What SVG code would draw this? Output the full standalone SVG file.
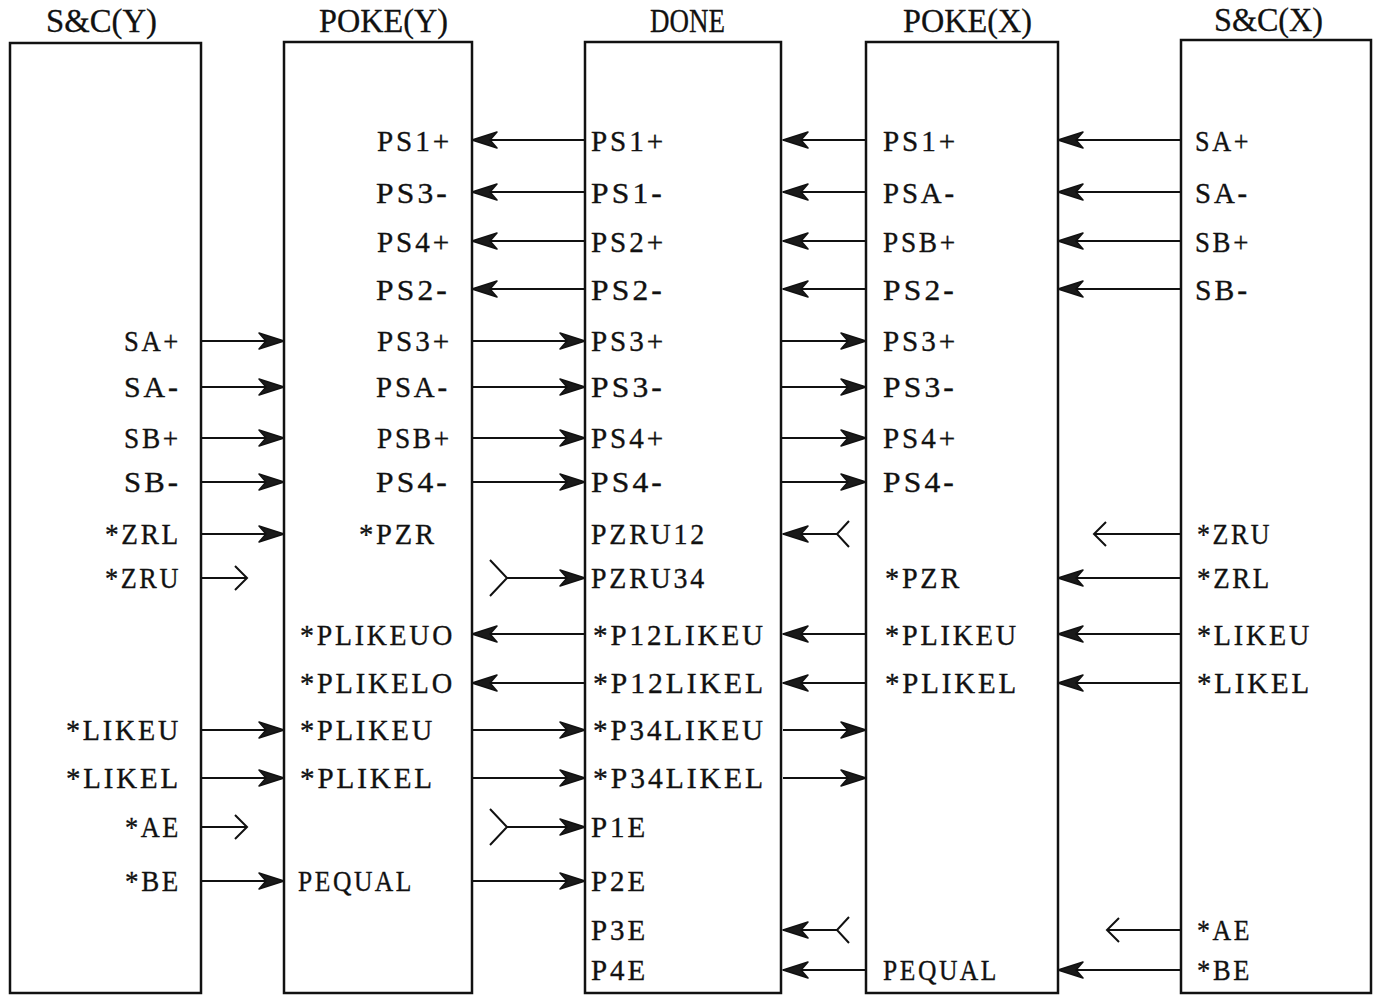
<svg xmlns="http://www.w3.org/2000/svg" width="1377" height="995" viewBox="0 0 1377 995">
<style>
.box{fill:none;stroke:#111;stroke-width:2.5}
.t{font-family:"Liberation Serif","DejaVu Serif",serif;font-size:30px;letter-spacing:3px;fill:#111;stroke:#111;stroke-width:0.35}
.e{text-anchor:end}
.ttl{font-family:"Liberation Serif","DejaVu Serif",serif;font-size:34px;fill:#111;stroke:#111;stroke-width:0.3}
.c line{stroke:#111;stroke-width:2.2}
.c path{fill:none;stroke:#111;stroke-width:2}
</style>
<defs>
<marker id="ah" viewBox="-27 -10 29 20" markerWidth="29" markerHeight="20" refX="0" refY="0" orient="auto" markerUnits="userSpaceOnUse">
<path d="M0,0 L-25,-8 L-18,0 L-25,8 Z" fill="#1a1a1a" stroke="#111" stroke-width="1.5" stroke-linejoin="round"/>
</marker>
</defs>
<rect width="1377" height="995" fill="#fff"/>

<g id="sc-y">
<text class="ttl" x="46" y="32" textLength="111" lengthAdjust="spacingAndGlyphs">S&amp;C(Y)</text>
<rect class="box" x="10" y="43" width="191" height="950"/>
<text class="t e" x="181" y="351" textLength="57" lengthAdjust="spacingAndGlyphs">SA+</text>
<text class="t e" x="181" y="397" textLength="57" lengthAdjust="spacingAndGlyphs">SA-</text>
<text class="t e" x="181" y="448" textLength="57" lengthAdjust="spacingAndGlyphs">SB+</text>
<text class="t e" x="181" y="492" textLength="57" lengthAdjust="spacingAndGlyphs">SB-</text>
<text class="t e" x="181" y="544" textLength="76" lengthAdjust="spacingAndGlyphs">*ZRL</text>
<text class="t e" x="181" y="588" textLength="76" lengthAdjust="spacingAndGlyphs">*ZRU</text>
<text class="t e" x="181" y="740" textLength="115" lengthAdjust="spacingAndGlyphs">*LIKEU</text>
<text class="t e" x="181" y="788" textLength="115" lengthAdjust="spacingAndGlyphs">*LIKEL</text>
<text class="t e" x="181" y="837" textLength="56" lengthAdjust="spacingAndGlyphs">*AE</text>
<text class="t e" x="181" y="891" textLength="56" lengthAdjust="spacingAndGlyphs">*BE</text>
</g>

<g id="poke-y">
<text class="ttl" x="319" y="32" textLength="129" lengthAdjust="spacingAndGlyphs">POKE(Y)</text>
<rect class="box" x="284" y="42" width="188" height="951"/>
<text class="t" x="377" y="151" textLength="75" lengthAdjust="spacingAndGlyphs">PS1+</text>
<text class="t" x="376" y="203" textLength="74" lengthAdjust="spacingAndGlyphs">PS3-</text>
<text class="t" x="377" y="252" textLength="75" lengthAdjust="spacingAndGlyphs">PS4+</text>
<text class="t" x="376" y="300" textLength="74" lengthAdjust="spacingAndGlyphs">PS2-</text>
<text class="t" x="377" y="351" textLength="75" lengthAdjust="spacingAndGlyphs">PS3+</text>
<text class="t" x="376" y="397" textLength="74" lengthAdjust="spacingAndGlyphs">PSA-</text>
<text class="t" x="377" y="448" textLength="75" lengthAdjust="spacingAndGlyphs">PSB+</text>
<text class="t" x="376" y="492" textLength="74" lengthAdjust="spacingAndGlyphs">PS4-</text>
<text class="t" x="359" y="544" textLength="78" lengthAdjust="spacingAndGlyphs">*PZR</text>
<text class="t" x="300" y="645" textLength="155" lengthAdjust="spacingAndGlyphs">*PLIKEUO</text>
<text class="t" x="300" y="693" textLength="155" lengthAdjust="spacingAndGlyphs">*PLIKELO</text>
<text class="t" x="300" y="740" textLength="135" lengthAdjust="spacingAndGlyphs">*PLIKEU</text>
<text class="t" x="300" y="788" textLength="135" lengthAdjust="spacingAndGlyphs">*PLIKEL</text>
<text class="t" x="298" y="891" textLength="116" lengthAdjust="spacingAndGlyphs">PEQUAL</text>
</g>

<g id="done">
<text class="ttl" x="650" y="32" textLength="75" lengthAdjust="spacingAndGlyphs">DONE</text>
<rect class="box" x="585" y="42" width="196" height="951"/>
<text class="t" x="591" y="151" textLength="75" lengthAdjust="spacingAndGlyphs">PS1+</text>
<text class="t" x="591" y="203" textLength="74" lengthAdjust="spacingAndGlyphs">PS1-</text>
<text class="t" x="591" y="252" textLength="75" lengthAdjust="spacingAndGlyphs">PS2+</text>
<text class="t" x="591" y="300" textLength="74" lengthAdjust="spacingAndGlyphs">PS2-</text>
<text class="t" x="591" y="351" textLength="75" lengthAdjust="spacingAndGlyphs">PS3+</text>
<text class="t" x="591" y="397" textLength="74" lengthAdjust="spacingAndGlyphs">PS3-</text>
<text class="t" x="591" y="448" textLength="75" lengthAdjust="spacingAndGlyphs">PS4+</text>
<text class="t" x="591" y="492" textLength="74" lengthAdjust="spacingAndGlyphs">PS4-</text>
<text class="t" x="591" y="544" textLength="116" lengthAdjust="spacingAndGlyphs">PZRU12</text>
<text class="t" x="591" y="588" textLength="116" lengthAdjust="spacingAndGlyphs">PZRU34</text>
<text class="t" x="593" y="645" textLength="173" lengthAdjust="spacingAndGlyphs">*P12LIKEU</text>
<text class="t" x="593" y="693" textLength="173" lengthAdjust="spacingAndGlyphs">*P12LIKEL</text>
<text class="t" x="593" y="740" textLength="173" lengthAdjust="spacingAndGlyphs">*P34LIKEU</text>
<text class="t" x="593" y="788" textLength="173" lengthAdjust="spacingAndGlyphs">*P34LIKEL</text>
<text class="t" x="591" y="837" textLength="57" lengthAdjust="spacingAndGlyphs">P1E</text>
<text class="t" x="591" y="891" textLength="57" lengthAdjust="spacingAndGlyphs">P2E</text>
<text class="t" x="591" y="940" textLength="57" lengthAdjust="spacingAndGlyphs">P3E</text>
<text class="t" x="591" y="980" textLength="57" lengthAdjust="spacingAndGlyphs">P4E</text>
</g>

<g id="poke-x">
<text class="ttl" x="903" y="32" textLength="129" lengthAdjust="spacingAndGlyphs">POKE(X)</text>
<rect class="box" x="866" y="42" width="192" height="951"/>
<text class="t" x="883" y="151" textLength="75" lengthAdjust="spacingAndGlyphs">PS1+</text>
<text class="t" x="883" y="203" textLength="74" lengthAdjust="spacingAndGlyphs">PSA-</text>
<text class="t" x="883" y="252" textLength="75" lengthAdjust="spacingAndGlyphs">PSB+</text>
<text class="t" x="883" y="300" textLength="74" lengthAdjust="spacingAndGlyphs">PS2-</text>
<text class="t" x="883" y="351" textLength="75" lengthAdjust="spacingAndGlyphs">PS3+</text>
<text class="t" x="883" y="397" textLength="74" lengthAdjust="spacingAndGlyphs">PS3-</text>
<text class="t" x="883" y="448" textLength="75" lengthAdjust="spacingAndGlyphs">PS4+</text>
<text class="t" x="883" y="492" textLength="74" lengthAdjust="spacingAndGlyphs">PS4-</text>
<text class="t" x="885" y="588" textLength="77" lengthAdjust="spacingAndGlyphs">*PZR</text>
<text class="t" x="885" y="645" textLength="134" lengthAdjust="spacingAndGlyphs">*PLIKEU</text>
<text class="t" x="885" y="693" textLength="134" lengthAdjust="spacingAndGlyphs">*PLIKEL</text>
<text class="t" x="883" y="980" textLength="116" lengthAdjust="spacingAndGlyphs">PEQUAL</text>
</g>

<g id="sc-x">
<text class="ttl" x="1214" y="31" textLength="109" lengthAdjust="spacingAndGlyphs">S&amp;C(X)</text>
<rect class="box" x="1181" y="40" width="190" height="953"/>
<text class="t" x="1195" y="151" textLength="56" lengthAdjust="spacingAndGlyphs">SA+</text>
<text class="t" x="1195" y="203" textLength="55" lengthAdjust="spacingAndGlyphs">SA-</text>
<text class="t" x="1195" y="252" textLength="56" lengthAdjust="spacingAndGlyphs">SB+</text>
<text class="t" x="1195" y="300" textLength="55" lengthAdjust="spacingAndGlyphs">SB-</text>
<text class="t" x="1197" y="544" textLength="75" lengthAdjust="spacingAndGlyphs">*ZRU</text>
<text class="t" x="1197" y="588" textLength="75" lengthAdjust="spacingAndGlyphs">*ZRL</text>
<text class="t" x="1197" y="645" textLength="115" lengthAdjust="spacingAndGlyphs">*LIKEU</text>
<text class="t" x="1197" y="693" textLength="115" lengthAdjust="spacingAndGlyphs">*LIKEL</text>
<text class="t" x="1197" y="940" textLength="55" lengthAdjust="spacingAndGlyphs">*AE</text>
<text class="t" x="1197" y="980" textLength="55" lengthAdjust="spacingAndGlyphs">*BE</text>
</g>

<g id="connectors" class="c">
<line x1="585" y1="140" x2="472" y2="140" marker-end="url(#ah)"/>
<line x1="866" y1="140" x2="783" y2="140" marker-end="url(#ah)"/>
<line x1="1181" y1="140" x2="1058" y2="140" marker-end="url(#ah)"/>
<line x1="585" y1="192" x2="472" y2="192" marker-end="url(#ah)"/>
<line x1="866" y1="192" x2="783" y2="192" marker-end="url(#ah)"/>
<line x1="1181" y1="192" x2="1058" y2="192" marker-end="url(#ah)"/>
<line x1="585" y1="241" x2="472" y2="241" marker-end="url(#ah)"/>
<line x1="866" y1="241" x2="783" y2="241" marker-end="url(#ah)"/>
<line x1="1181" y1="241" x2="1058" y2="241" marker-end="url(#ah)"/>
<line x1="585" y1="289" x2="472" y2="289" marker-end="url(#ah)"/>
<line x1="866" y1="289" x2="783" y2="289" marker-end="url(#ah)"/>
<line x1="1181" y1="289" x2="1058" y2="289" marker-end="url(#ah)"/>
<line x1="201" y1="341" x2="284" y2="341" marker-end="url(#ah)"/>
<line x1="472" y1="341" x2="585" y2="341" marker-end="url(#ah)"/>
<line x1="781" y1="341" x2="866" y2="341" marker-end="url(#ah)"/>
<line x1="201" y1="387" x2="284" y2="387" marker-end="url(#ah)"/>
<line x1="472" y1="387" x2="585" y2="387" marker-end="url(#ah)"/>
<line x1="781" y1="387" x2="866" y2="387" marker-end="url(#ah)"/>
<line x1="201" y1="438" x2="284" y2="438" marker-end="url(#ah)"/>
<line x1="472" y1="438" x2="585" y2="438" marker-end="url(#ah)"/>
<line x1="781" y1="438" x2="866" y2="438" marker-end="url(#ah)"/>
<line x1="201" y1="482" x2="284" y2="482" marker-end="url(#ah)"/>
<line x1="472" y1="482" x2="585" y2="482" marker-end="url(#ah)"/>
<line x1="781" y1="482" x2="866" y2="482" marker-end="url(#ah)"/>
<line x1="201" y1="534" x2="284" y2="534" marker-end="url(#ah)"/>
<line x1="837" y1="534" x2="783" y2="534" marker-end="url(#ah)"/>
<path d="M849,521 L837,534 L849,547"/>
<line x1="1181" y1="534" x2="1094" y2="534"/>
<path d="M1106,522 L1094,534 L1106,546"/>
<line x1="201" y1="578" x2="247" y2="578"/>
<path d="M235,566 L247,578 L235,590"/>
<line x1="507" y1="578" x2="585" y2="578" marker-end="url(#ah)"/>
<path d="M490,560 L507,578 L490,596"/>
<line x1="1181" y1="578" x2="1058" y2="578" marker-end="url(#ah)"/>
<line x1="585" y1="634" x2="472" y2="634" marker-end="url(#ah)"/>
<line x1="866" y1="634" x2="783" y2="634" marker-end="url(#ah)"/>
<line x1="1181" y1="634" x2="1058" y2="634" marker-end="url(#ah)"/>
<line x1="585" y1="683" x2="472" y2="683" marker-end="url(#ah)"/>
<line x1="866" y1="683" x2="783" y2="683" marker-end="url(#ah)"/>
<line x1="1181" y1="683" x2="1058" y2="683" marker-end="url(#ah)"/>
<line x1="201" y1="730" x2="284" y2="730" marker-end="url(#ah)"/>
<line x1="472" y1="730" x2="585" y2="730" marker-end="url(#ah)"/>
<line x1="783" y1="730" x2="866" y2="730" marker-end="url(#ah)"/>
<line x1="201" y1="778" x2="284" y2="778" marker-end="url(#ah)"/>
<line x1="472" y1="778" x2="585" y2="778" marker-end="url(#ah)"/>
<line x1="783" y1="778" x2="866" y2="778" marker-end="url(#ah)"/>
<line x1="201" y1="827" x2="247" y2="827"/>
<path d="M235,815 L247,827 L235,839"/>
<line x1="507" y1="827" x2="585" y2="827" marker-end="url(#ah)"/>
<path d="M490,809 L507,827 L490,845"/>
<line x1="201" y1="881" x2="284" y2="881" marker-end="url(#ah)"/>
<line x1="472" y1="881" x2="585" y2="881" marker-end="url(#ah)"/>
<line x1="837" y1="930" x2="783" y2="930" marker-end="url(#ah)"/>
<path d="M849,917 L837,930 L849,943"/>
<line x1="1181" y1="930" x2="1107" y2="930"/>
<path d="M1119,918 L1107,930 L1119,942"/>
<line x1="866" y1="970" x2="783" y2="970" marker-end="url(#ah)"/>
<line x1="1181" y1="970" x2="1058" y2="970" marker-end="url(#ah)"/>
</g>
</svg>
